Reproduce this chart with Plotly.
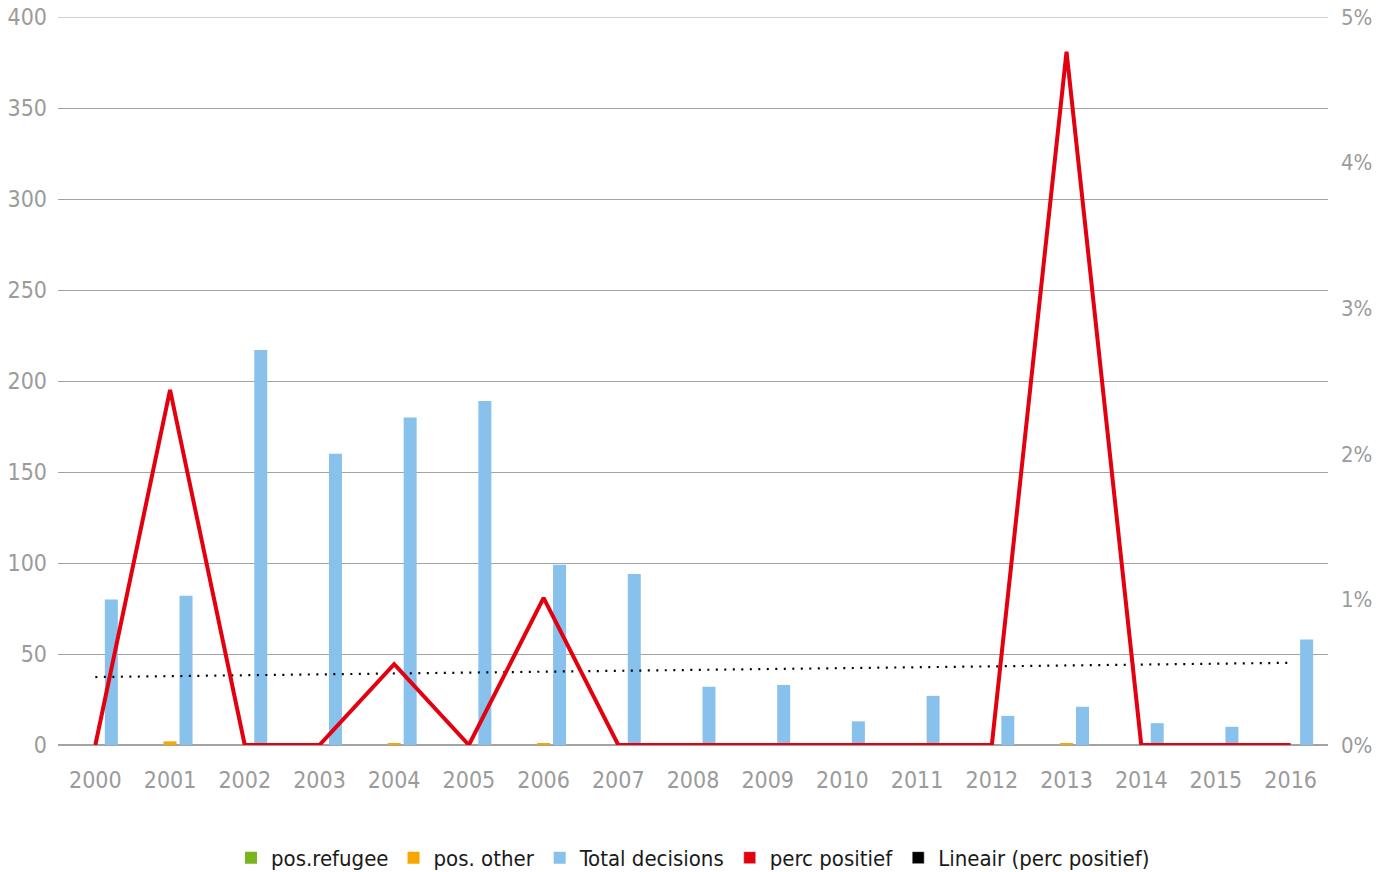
import numpy as np
import plotly.graph_objects as go

years = [str(y) for y in range(2000, 2017)]
pos_refugee = [0, 0, 0, 0, 0, 0, 0, 0, 0, 0, 0, 0, 0, 0, 0, 0, 0]
pos_other = [0, 2, 0, 0, 1, 0, 1, 0, 0, 0, 0, 0, 0, 1, 0, 0, 0]
total_decisions = [80, 82, 217, 160, 180, 189, 99, 94, 32, 33, 13, 27, 16, 21, 12, 10, 58]

# share of positive decisions (refugee + other) in all decisions
perc_pos = [(r + o) / t for r, o, t in zip(pos_refugee, pos_other, total_decisions)]

# linear trend of the share over the years
idx = np.arange(1, len(years) + 1)
slope, icpt = np.polyfit(idx, perc_pos, 1)
trend = list(slope * idx + icpt)

GREEN = "#7ab51d"
ORANGE = "#f7a800"
BLUE = "#88c1ec"
RED = "#e3000f"
GRID = "#a3a3a3"
TICK = "#9b9b9b"
FONT = "Liberation Sans Narrow, DejaVu Sans Condensed, Roboto, sans-serif"

BAR_W = 0.174   # bar width in category units
STEP = 0.214    # distance between neighbouring bars within a year

fig = go.Figure()
for i, (vals, name, col) in enumerate([(pos_refugee, "pos.refugee", GREEN),
                                       (pos_other, "pos. other", ORANGE),
                                       (total_decisions, "Total decisions", BLUE)]):
    fig.add_trace(go.Bar(x=years, y=vals, name=name, marker_color=col, marker_line_width=0,
                         width=BAR_W, offset=(i - 1) * STEP - BAR_W / 2))

fig.add_trace(go.Scatter(x=years, y=trend, yaxis="y2", mode="lines", showlegend=False,
                         line=dict(color="black", width=2.2, dash="2px,6.5px")))
fig.add_trace(go.Scatter(x=years, y=perc_pos, yaxis="y2", mode="lines", showlegend=False,
                         line=dict(color=RED, width=4)))

# square legend keys for the two line series
fig.add_trace(go.Bar(x=[None], y=[None], name="perc positief", marker_color=RED))
fig.add_trace(go.Bar(x=[None], y=[None], name="Lineair (perc positief)", marker_color="black"))

fig.add_shape(type="line", xref="paper", yref="y", x0=0, x1=1, y0=400, y1=400,
              line=dict(color=GRID, width=1), layer="below")

fig.update_layout(
    width=1376, height=872,
    margin=dict(l=58, r=48, t=17, b=127, autoexpand=False),
    paper_bgcolor="white", plot_bgcolor="white",
    barmode="overlay",
    font=dict(family=FONT, color="#222"),
    showlegend=True,
    legend=dict(orientation="h", x=0.5, xanchor="center", y=-0.155, yanchor="middle",
                font=dict(size=22, color="#1a1a1a"), itemwidth=30, traceorder="normal",
                tracegroupgap=0),
    xaxis=dict(type="category", range=[-0.5, 16.5], showgrid=False, showline=False,
               ticks="", tickfont=dict(size=23, color=TICK), ticklabelstandoff=19),
    yaxis=dict(range=[0, 400], dtick=50, showgrid=True, gridcolor=GRID, gridwidth=1,
               zeroline=True, zerolinecolor=GRID, zerolinewidth=1.5, showline=False,
               tickfont=dict(size=23, color=TICK), ticklabelstandoff=10),
    yaxis2=dict(range=[0, 0.05], dtick=0.01, tickformat=".0%", overlaying="y", side="right",
                showgrid=False, zeroline=False, showline=False,
                tickfont=dict(size=22, color=TICK), ticklabelstandoff=12),
)

fig.write_html("out.html")
